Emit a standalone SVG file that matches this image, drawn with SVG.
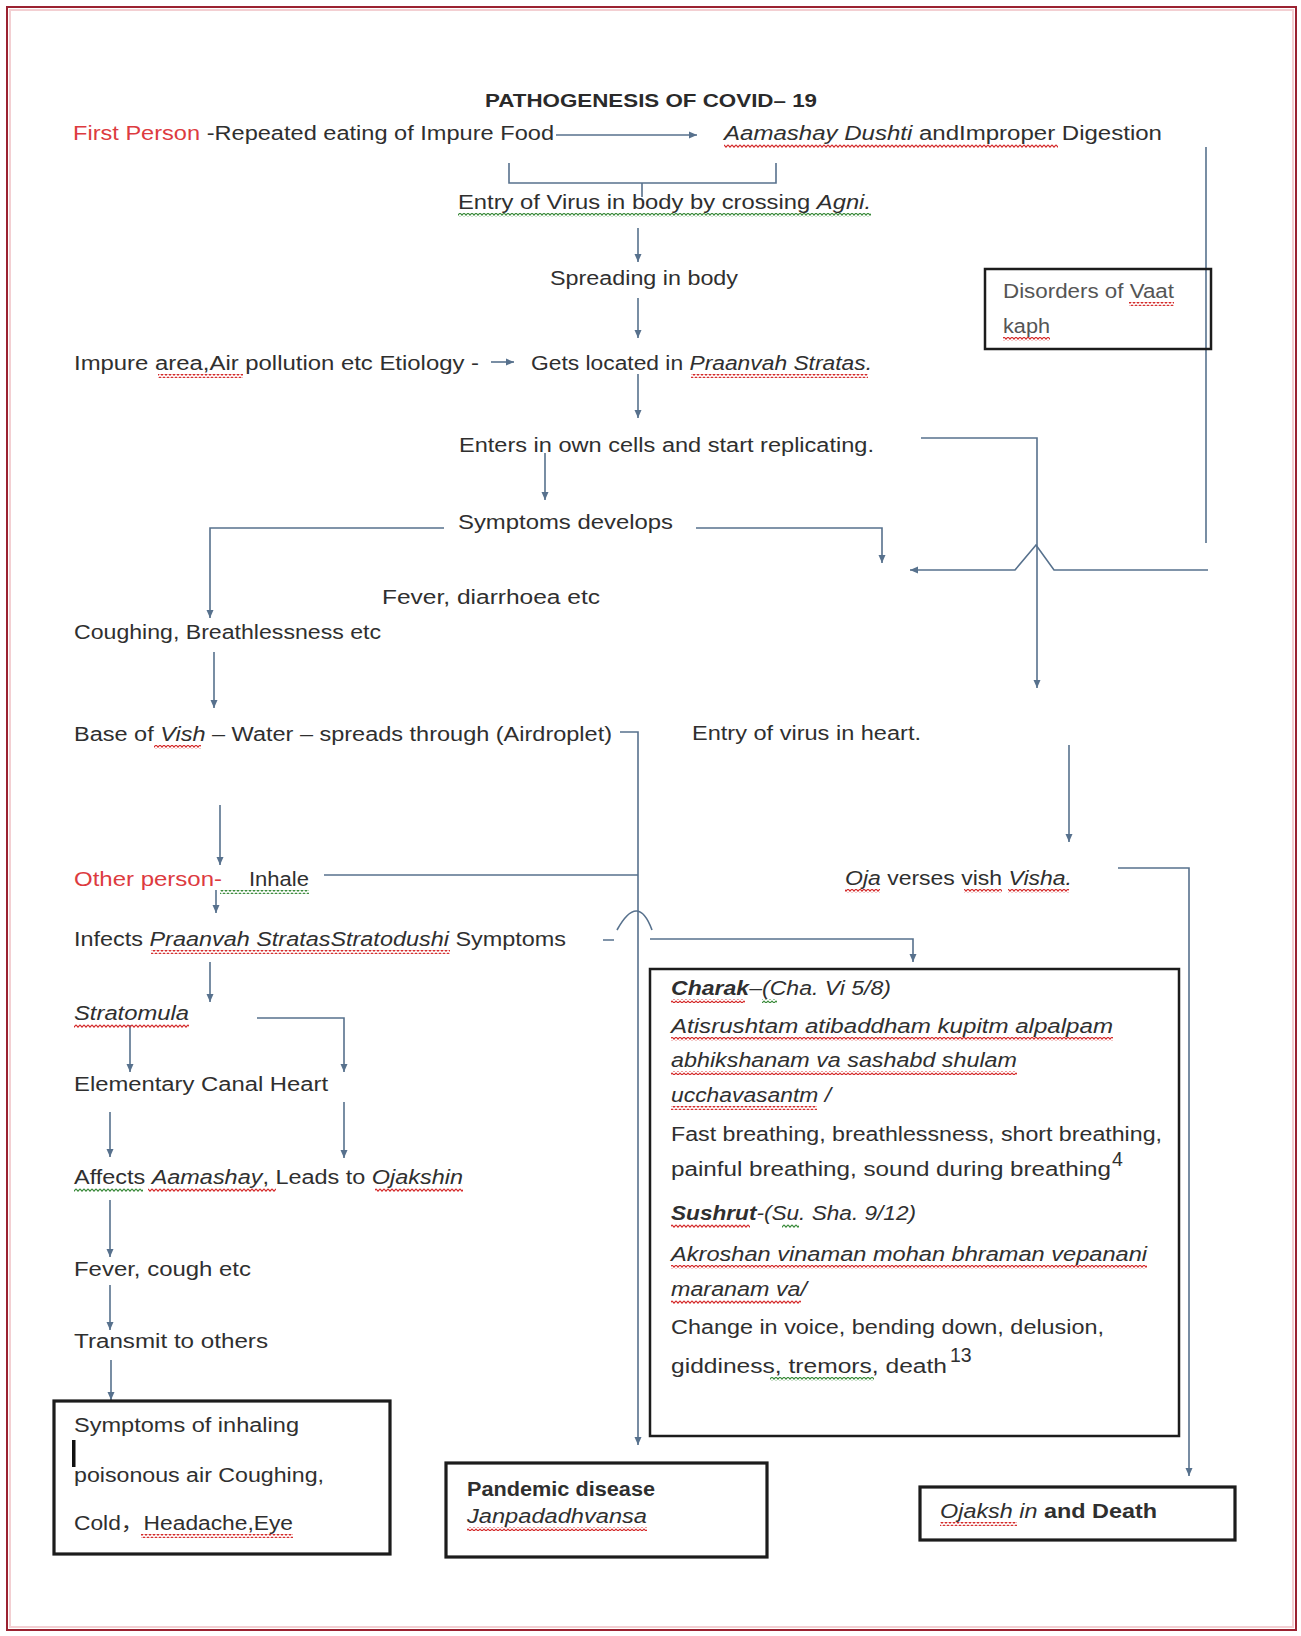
<svg xmlns="http://www.w3.org/2000/svg" width="1301" height="1636" viewBox="0 0 1301 1636">
<style>
.t{font-family:"Liberation Sans",Arial,"Noto Sans CJK SC",sans-serif;font-size:19.5px;fill:#2f2f2f}
.ti{font-family:"Liberation Sans",Arial,sans-serif;font-size:18px;font-weight:bold;fill:#2a2a2a}
.i{font-style:italic}
.b{font-weight:bold}
.red{fill:#dd3b3f}
.lt{fill:#555}
.c{fill:none;stroke:#57718d;stroke-width:1.6}
.ca{fill:none;stroke:#57718d;stroke-width:1.6;marker-end:url(#ah)}
.box{fill:none;stroke:#1c1c1c;stroke-width:2.5}
.boxk{fill:none;stroke:#1c1c1c;stroke-width:3.2}
.wr{fill:url(#wavR)}
.wg{fill:url(#wavG)}
</style>
<defs>
<marker id="ah" markerUnits="userSpaceOnUse" markerWidth="9" markerHeight="8" refX="8" refY="4" orient="auto">
<path d="M0,0.5 L8,4 L0,7.5 Z" fill="#57718d"/>
</marker>
<pattern id="wavR" patternUnits="userSpaceOnUse" width="4" height="4">
<path d="M0,0.8 L2,3.2 L4,0.8" fill="none" stroke="#d42a2a" stroke-width="1.1"/>
</pattern>
<pattern id="wavG" patternUnits="userSpaceOnUse" width="4" height="4">
<path d="M0,0.8 L2,3.2 L4,0.8" fill="none" stroke="#3a8a3a" stroke-width="1.1"/>
</pattern>
</defs>
<rect x="0" y="0" width="1301" height="1636" fill="#ffffff"/>
<rect x="7" y="7" width="1289" height="1623" fill="none" stroke="#9b2231" stroke-width="2"/>
<rect x="10" y="10" width="1283" height="1617" fill="none" stroke="#f3cfd2" stroke-width="2"/>

<g id="title"><text class="ti" x="485" y="107" textLength="332" lengthAdjust="spacingAndGlyphs">PATHOGENESIS OF COVID– 19</text></g>

<g id="connectors">
<path class="ca" d="M556,135 H697"/>
<path class="c" d="M509,163 V183 H776 V163 M642,183 V197"/>
<path class="ca" d="M638,228 V262"/>
<path class="ca" d="M638,298 V338"/>
<path class="ca" d="M491,362 H514"/>
<path class="ca" d="M638,374 V418"/>
<path class="ca" d="M545,453 V500"/>
<path class="ca" d="M444,528 H210 V618"/>
<path class="ca" d="M696,528 H882 V563"/>
<path class="ca" d="M921,438 H1037 V688"/>
<path class="c" d="M1206,147 V543"/>
<path class="ca" d="M1208,570 H1054 L1036,545 L1015,570 H910"/>
<path class="ca" d="M214,652 V708"/>
<path class="ca" d="M620,732 H638 V1445"/>
<path class="ca" d="M220,805 V865"/>
<path class="c" d="M324,875 H638"/>
<path class="ca" d="M216,890 V913"/>
<path class="c" d="M603,940 H614 M617,930 Q638,892 652,930"/>
<path class="ca" d="M650,939 H913 V962"/>
<path class="ca" d="M210,962 V1002"/>
<path class="ca" d="M130,1025 V1072"/>
<path class="ca" d="M257,1018 H344 V1072"/>
<path class="ca" d="M110,1112 V1157"/>
<path class="ca" d="M344,1102 V1158"/>
<path class="ca" d="M110,1200 V1257"/>
<path class="ca" d="M110,1285 V1330"/>
<path class="ca" d="M111,1360 V1400"/>
<path class="ca" d="M1069,745 V842"/>
<path class="ca" d="M1118,868 H1189 V1476"/>
</g>

<g id="n-first"><text class="t" x="73" y="140" textLength="481" lengthAdjust="spacingAndGlyphs"><tspan class="red">First Person</tspan> -Repeated eating of Impure Food</text></g>

<g id="n-aamashay"><text class="t" x="724" y="140" textLength="438" lengthAdjust="spacingAndGlyphs"><tspan class="i">Aamashay Dushti</tspan> andImproper Digestion</text>
<rect class="wr" x="724" y="144" width="334" height="4"/></g>

<g id="n-entry"><text class="t" x="458" y="209" textLength="413" lengthAdjust="spacingAndGlyphs">Entry of Virus in body by crossing <tspan class="i">Agni.</tspan></text>
<rect class="wg" x="458" y="213" width="413" height="4"/></g>

<g id="n-spreading"><text class="t" x="550" y="285" textLength="188" lengthAdjust="spacingAndGlyphs">Spreading in body</text></g>

<g id="n-impure"><text class="t" x="74" y="370" textLength="405" lengthAdjust="spacingAndGlyphs">Impure area,Air pollution etc Etiology -</text>
<rect class="wr" x="158" y="374" width="85" height="4"/></g>

<g id="n-gets"><text class="t" x="531" y="370" textLength="341" lengthAdjust="spacingAndGlyphs">Gets located in <tspan class="i">Praanvah Stratas.</tspan></text>
<rect class="wr" x="691" y="374" width="177" height="4"/></g>

<g id="n-enters"><text class="t" x="459" y="452" textLength="415" lengthAdjust="spacingAndGlyphs">Enters in own cells and start replicating.</text></g>

<g id="n-symptoms"><text class="t" x="458" y="529" textLength="215" lengthAdjust="spacingAndGlyphs">Symptoms develops</text></g>

<g id="n-disorders"><rect class="box" x="985" y="269" width="226" height="80"/>
<text class="t lt" x="1003" y="298" textLength="171" lengthAdjust="spacingAndGlyphs">Disorders of Vaat</text>
<text class="t lt" x="1003" y="333" textLength="47" lengthAdjust="spacingAndGlyphs">kaph</text>
<rect class="wr" x="1129" y="302" width="45" height="4"/>
<rect class="wr" x="1003" y="337" width="47" height="4"/></g>

<g id="n-fever-diarrhoea"><text class="t" x="382" y="604" textLength="218" lengthAdjust="spacingAndGlyphs">Fever, diarrhoea etc</text></g>

<g id="n-coughing"><text class="t" x="74" y="639" textLength="307" lengthAdjust="spacingAndGlyphs">Coughing, Breathlessness etc</text></g>

<g id="n-base"><text class="t" x="74" y="741" textLength="538" lengthAdjust="spacingAndGlyphs">Base of <tspan class="i">Vish</tspan> – Water – spreads through (Airdroplet)</text>
<rect class="wr" x="154" y="745" width="47" height="4"/></g>

<g id="n-entry-heart"><text class="t" x="692" y="740" textLength="229" lengthAdjust="spacingAndGlyphs">Entry of virus in heart.</text></g>

<g id="n-other"><text class="t red" x="74" y="886" textLength="148" lengthAdjust="spacingAndGlyphs">Other person-</text>
<text class="t" x="249" y="886" textLength="60" lengthAdjust="spacingAndGlyphs">Inhale</text>
<rect class="wg" x="220" y="890" width="89" height="4"/></g>

<g id="n-oja"><text class="t" x="845" y="885" textLength="227" lengthAdjust="spacingAndGlyphs"><tspan class="i">Oja</tspan> verses vish <tspan class="i">Visha.</tspan></text>
<rect class="wr" x="845" y="889" width="35" height="4"/>
<rect class="wr" x="964" y="889" width="38" height="4"/>
<rect class="wr" x="1008" y="889" width="61" height="4"/></g>

<g id="n-infects"><text class="t" x="74" y="946" textLength="492" lengthAdjust="spacingAndGlyphs">Infects <tspan class="i">Praanvah StratasStratodushi</tspan> Symptoms</text>
<rect class="wr" x="151" y="950" width="299" height="4"/></g>

<g id="n-stratomula"><text class="t i" x="74" y="1020" textLength="115" lengthAdjust="spacingAndGlyphs">Stratomula</text>
<rect class="wr" x="74" y="1024" width="115" height="4"/></g>

<g id="n-elementary"><text class="t" x="74" y="1091" textLength="254" lengthAdjust="spacingAndGlyphs">Elementary Canal Heart</text></g>

<g id="n-affects"><text class="t" x="74" y="1184" textLength="389" lengthAdjust="spacingAndGlyphs">Affects <tspan class="i">Aamashay</tspan>, Leads to <tspan class="i">Ojakshin</tspan></text>
<rect class="wg" x="74" y="1188" width="69" height="4"/>
<rect class="wr" x="148" y="1188" width="128" height="4"/>
<rect class="wr" x="375" y="1188" width="88" height="4"/></g>

<g id="n-fever-cough"><text class="t" x="74" y="1276" textLength="177" lengthAdjust="spacingAndGlyphs">Fever, cough etc</text></g>

<g id="n-transmit"><text class="t" x="74" y="1348" textLength="194" lengthAdjust="spacingAndGlyphs">Transmit to others</text></g>

<g id="n-box-symptoms"><rect class="boxk" x="54" y="1401" width="336" height="153"/>
<text class="t" x="74" y="1432" textLength="225" lengthAdjust="spacingAndGlyphs">Symptoms of inhaling</text>
<rect x="72" y="1440" width="3.5" height="27" fill="#111"/>
<text class="t" x="74" y="1482" textLength="250" lengthAdjust="spacingAndGlyphs">poisonous air Coughing,</text>
<text class="t" x="74" y="1530" textLength="219" lengthAdjust="spacingAndGlyphs">Cold，Headache,Eye</text>
<rect class="wr" x="141" y="1534" width="152" height="4"/></g>

<g id="n-charak"><rect class="box" x="650" y="969" width="529" height="467"/>
<text class="t" x="671" y="995" textLength="220" lengthAdjust="spacingAndGlyphs"><tspan class="b i">Charak</tspan><tspan class="i">–(Cha. Vi 5/8)</tspan></text>
<rect class="wr" x="671" y="999" width="74" height="4"/>
<rect class="wg" x="762" y="999" width="15" height="4"/>
<text class="t i" x="671" y="1033" textLength="442" lengthAdjust="spacingAndGlyphs">Atisrushtam atibaddham kupitm alpalpam</text>
<rect class="wr" x="671" y="1037" width="442" height="4"/>
<text class="t i" x="671" y="1067" textLength="346" lengthAdjust="spacingAndGlyphs">abhikshanam va sashabd shulam</text>
<rect class="wr" x="671" y="1071" width="346" height="4"/>
<text class="t i" x="671" y="1102" textLength="160" lengthAdjust="spacingAndGlyphs">ucchavasantm /</text>
<rect class="wr" x="671" y="1106" width="146" height="4"/>
<text class="t" x="671" y="1141" textLength="491" lengthAdjust="spacingAndGlyphs">Fast breathing, breathlessness, short breathing,</text>
<text class="t" x="671" y="1176" textLength="440" lengthAdjust="spacingAndGlyphs">painful breathing, sound during breathing</text>
<text class="t" x="1112" y="1166" font-size="9">4</text>
<text class="t" x="671" y="1220" textLength="245" lengthAdjust="spacingAndGlyphs"><tspan class="b i">Sushrut</tspan><tspan class="i">-(Su. Sha. 9/12)</tspan></text>
<rect class="wr" x="671" y="1224" width="79" height="4"/>
<rect class="wg" x="782" y="1224" width="17" height="4"/>
<text class="t i" x="671" y="1261" textLength="476" lengthAdjust="spacingAndGlyphs">Akroshan vinaman mohan bhraman vepanani</text>
<rect class="wr" x="671" y="1265" width="476" height="4"/>
<text class="t i" x="671" y="1296" textLength="136" lengthAdjust="spacingAndGlyphs">maranam va/</text>
<rect class="wr" x="671" y="1300" width="130" height="4"/>
<text class="t" x="671" y="1334" textLength="433" lengthAdjust="spacingAndGlyphs">Change in voice, bending down, delusion,</text>
<text class="t" x="671" y="1373" textLength="276" lengthAdjust="spacingAndGlyphs">giddiness,  tremors, death</text>
<rect class="wg" x="770" y="1377" width="104" height="4"/>
<text class="t" x="950" y="1362" font-size="9">13</text></g>

<g id="n-pandemic"><rect class="boxk" x="446" y="1463" width="321" height="94"/>
<text class="t b" x="467" y="1496" textLength="188" lengthAdjust="spacingAndGlyphs">Pandemic disease</text>
<text class="t i" x="467" y="1523" textLength="180" lengthAdjust="spacingAndGlyphs">Janpadadhvansa</text>
<rect class="wr" x="467" y="1527" width="180" height="4"/></g>

<g id="n-ojakshin"><rect class="boxk" x="920" y="1487" width="315" height="53"/>
<text class="t" x="940" y="1518" textLength="217" lengthAdjust="spacingAndGlyphs"><tspan class="i">Ojaksh in</tspan><tspan class="b"> and Death</tspan></text>
<rect class="wr" x="940" y="1522" width="77" height="4"/></g>
</svg>
